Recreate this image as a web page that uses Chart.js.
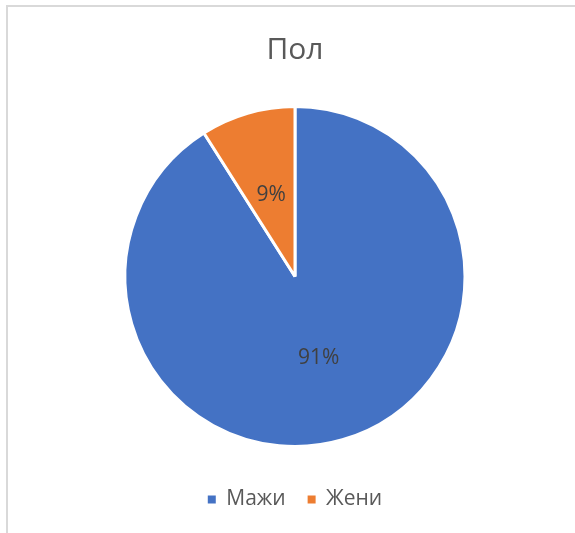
<!DOCTYPE html>
<html>
<head>
<meta charset="utf-8">
<script src="https://cdn.jsdelivr.net/npm/chart.js@4/dist/chart.umd.min.js"></script>
<style>
  html, body { margin: 0; padding: 0; background: #fff; overflow: hidden; }
  #frame { position: absolute; left: 6px; top: 5px; width: 600px; height: 560px; border: 2px solid #d9d9d9; box-sizing: border-box; }
  #wrap { position: absolute; left: 0; top: 0; width: 575px; height: 533px; }
</style>
</head>
<body>
<div id="frame"></div>
<div id="wrap"><canvas id="c" width="575" height="533"></canvas></div>
<script>
const categories = ['Мажи', 'Жени'];
const values = [91, 9];
const colors = ['#4472C4', '#ED7D31'];
const titleText = 'Пол';

const sliceLabels = {
  id: 'sliceLabels',
  afterDatasetsDraw(chart) {
    const ctx = chart.ctx;
    const meta = chart.getDatasetMeta(0);
    const data = chart.data.datasets[0].data;
    const total = data.reduce((a, b) => a + b, 0);
    ctx.save();
    ctx.font = '21px "Open Sans"';
    ctx.fillStyle = '#404040';
    ctx.textAlign = 'center';
    ctx.textBaseline = 'middle';
    meta.data.forEach((arc, i) => {
      const p = arc.tooltipPosition();
      ctx.fillText(Math.round(data[i] / total * 100) + '%', p.x, p.y);
    });
    ctx.restore();
  }
};

new Chart(document.getElementById('c'), {
  type: 'pie',
  data: {
    labels: categories,
    datasets: [{
      data: values,
      backgroundColor: colors,
      borderColor: '#ffffff',
      borderWidth: 3
    }]
  },
  options: {
    responsive: false,
    animation: false,
    radius: 170,
    layout: { padding: { left: 15, right: 0, top: 0, bottom: 13 } },
    plugins: {
      tooltip: { enabled: false },
      title: {
        display: true,
        text: titleText,
        color: '#595959',
        font: { family: 'Open Sans', size: 30, weight: 'normal' },
        padding: { top: 32, bottom: 18 }
      },
      legend: {
        display: true,
        position: 'bottom',
        labels: {
          color: '#595959',
          font: { family: 'Open Sans', size: 21 },
          boxWidth: 8,
          boxHeight: 8,
          padding: 22,
          generateLabels(chart) {
            const items = Chart.controllers.pie.overrides.plugins.legend.labels.generateLabels(chart);
            items.forEach(it => { it.lineWidth = 0; it.strokeStyle = it.fillStyle; });
            return items;
          }
        }
      }
    }
  },
  plugins: [sliceLabels]
});
</script>
</body>
</html>
